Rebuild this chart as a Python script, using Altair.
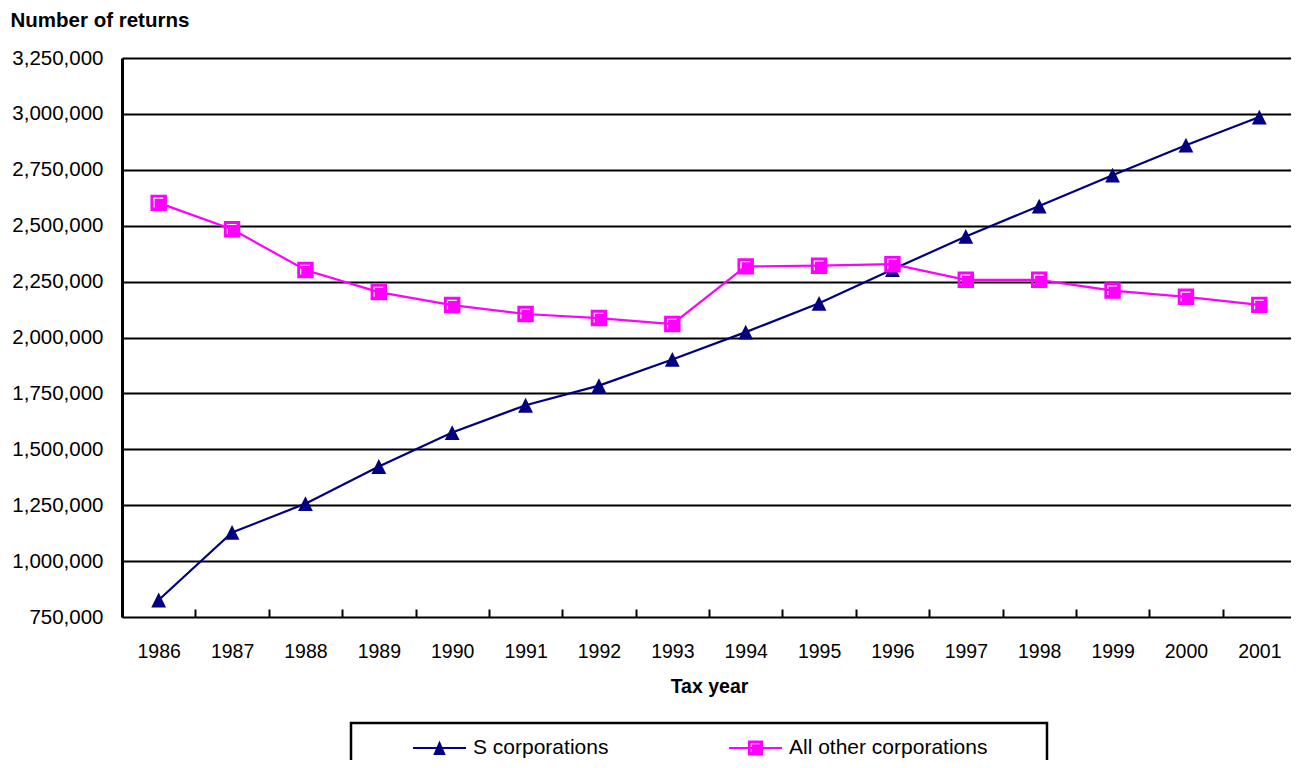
import altair as alt
import pandas as pd

# ---- data ----
years = [1986, 1987, 1988, 1989, 1990, 1991, 1992, 1993,
         1994, 1995, 1996, 1997, 1998, 1999, 2000, 2001]
s_corporations = [826000, 1128000, 1257000, 1423000, 1575000, 1697000, 1785000, 1902000,
                  2024000, 2153000, 2304000, 2452000, 2588000, 2726000, 2860000, 2986000]
other_corporations = [2602000, 2484000, 2302000, 2203000, 2145000, 2105000, 2087000, 2060000,
                      2318000, 2321000, 2328000, 2258000, 2258000, 2210000, 2182000, 2146000]
series_names = ["S corporations", "All other corporations"]
series_colors = ["#000080", "#FF00FF"]
y_ticks = [750000, 1000000, 1250000, 1500000, 1750000, 2000000,
           2250000, 2500000, 2750000, 3000000, 3250000]

rows = []
for i, yr in enumerate(years):
    rows.append({"year": str(yr), "series": series_names[0], "value": s_corporations[i]})
    rows.append({"year": str(yr), "series": series_names[1], "value": other_corporations[i]})
df = pd.DataFrame(rows)

# ---- marker shapes (custom SVG paths in the [-1, 1] box) ----
TRI_CHART = "M0,-0.9L0.9,0.9L-0.9,0.9Z"
SQ_CHART = "M-1,-1H1V1H-1Z M-0.65,-0.65V0.55H-0.5V-0.5H0.55V-0.65Z"
# legend symbols: drawn in the right part of a 100px symbol box (unit = 50px)
TRI_LEG = "M-0.06,-0.022H1V0.022H-0.06Z M0.47,-0.15L0.595,0.14L0.345,0.14Z"
SQ_LEG = ("M-0.06,-0.022H1V0.022H-0.06Z M0.32,-0.15H0.62V0.15H0.32Z "
          "M0.375,-0.095V0.082H0.396V-0.074H0.552V-0.095Z")

FONT = "Liberation Sans"

x_enc = alt.X(
    "year:O",
    scale=alt.Scale(type="band", paddingInner=0, paddingOuter=0, range=[0, 1174]),
    axis=alt.Axis(
        title="Tax year", titleFontSize=19.5, titleFontWeight="bold", titleColor="black",
        titleY=83, titleBaseline="alphabetic",
        labelFontSize=19.5, labelColor="black", labelAngle=0, labelPadding=25,
        domain=False, ticks=True, tickBand="extent", tickSize=8, tickWidth=2,
        tickColor="black", offset=-8, grid=False,
    ),
)
y_enc = alt.Y(
    "value:Q",
    scale=alt.Scale(domain=[750000, 3250000], nice=False, zero=False),
    axis=alt.Axis(
        title="Number of returns", titleAngle=0, titleAlign="left", titleBaseline="alphabetic",
        titleX=-112, titleY=-32, titleFontSize=20.5, titleFontWeight="bold", titleColor="black",
        values=y_ticks, format=",.0f", labelFontSize=20.5, labelColor="black", labelPadding=19,
        ticks=False, tickSize=0, domainColor="black", domainWidth=3,
        grid=True, gridColor="black", gridWidth=2, gridOpacity=1,
    ),
)


def color_enc(legend):
    return alt.Color("series:N", scale=alt.Scale(domain=series_names, range=series_colors),
                     legend=legend)


base = alt.Chart(df)

lines = base.mark_line(strokeWidth=2.2).encode(
    x=x_enc, y=y_enc, color=color_enc(None)
)

points = base.mark_point(filled=True, opacity=1, strokeWidth=0, size=270).encode(
    x=x_enc, y=y_enc, color=color_enc(None),
    shape=alt.Shape("series:N", scale=alt.Scale(domain=series_names, range=[TRI_CHART, SQ_CHART]),
                    legend=None),
)

leg = alt.Legend(
    title=" ", titleOrient="right", titleFontSize=4, titlePadding=45,
    orient="none", legendX=229, legendY=665, direction="horizontal",
    strokeColor="black", fillColor="white", padding=15, clipHeight=20,
    symbolSize=10000, symbolStrokeWidth=0, symbolOpacity=1,
    labelFontSize=21, labelColor="black", labelOffset=7, labelLimit=500,
    columnPadding=73,
)

legend_layer = base.transform_filter("false").mark_point(
    filled=True, opacity=1, strokeWidth=0
).encode(
    color=color_enc(leg),
    shape=alt.Shape("series:N", scale=alt.Scale(domain=series_names, range=[TRI_LEG, SQ_LEG]),
                    legend=leg),
)

chart = alt.layer(lines, points, legend_layer).resolve_scale(
    color="independent", shape="independent"
).properties(
    width=1169, height=559,
    autosize=alt.AutoSizeParams(type="none"),
    padding={"left": 114, "top": 50, "right": 0, "bottom": 143},
).configure(font=FONT).configure_view(stroke=None).configure_legend(strokeWidth=2.5)

chart.save("out.html", embed_options={"renderer": "svg", "actions": False})
